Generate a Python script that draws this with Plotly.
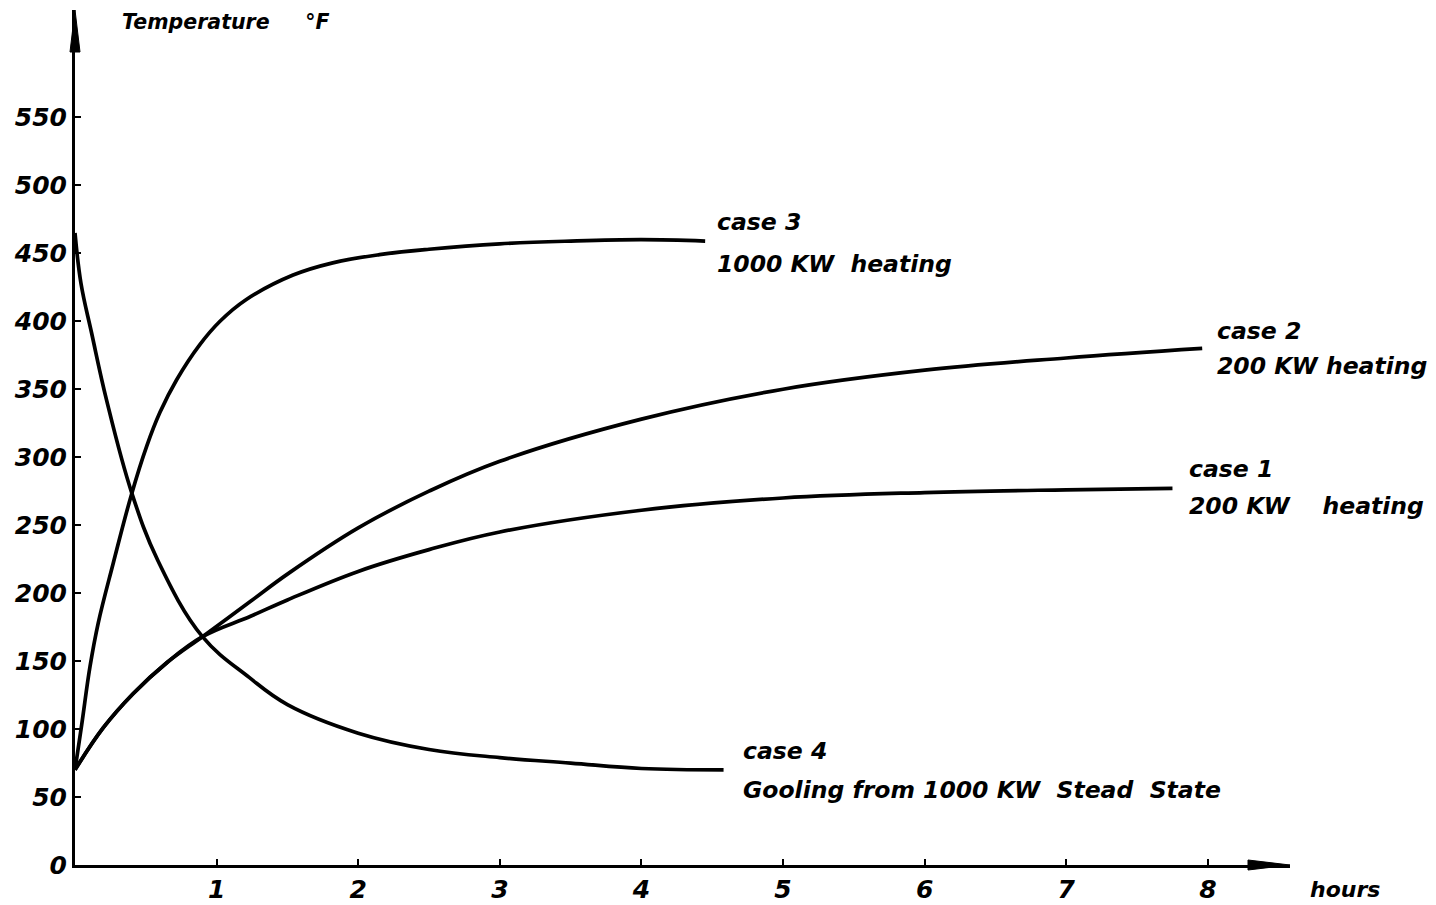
import plotly.graph_objects as go

# ---- data ----
case1_hours = [0, 0.2, 0.41, 0.65, 0.9, 1.24, 1.5, 2.0, 2.5, 3.0, 4.0, 5.0, 6.0, 7.0, 7.75]
case1_temp = [70, 101, 126, 149, 168, 183, 195, 216, 232, 245, 261, 270, 274, 276, 277]

case2_hours = [0, 0.2, 0.41, 0.65, 0.9, 1.24, 1.5, 2.0, 2.5, 3.0, 4.0, 5.0, 6.0, 7.0, 7.96]
case2_temp = [70, 101, 126, 149, 168, 194, 214, 248, 275, 297, 328, 350, 364, 373, 380]

case3_hours = [0, 0.047, 0.106, 0.164, 0.27, 0.40, 0.506, 0.60, 0.718, 0.883, 1.024, 1.21,
               1.54, 1.82, 2.15, 2.5, 3.0, 3.5, 4.0, 4.45]
case3_temp = [70, 103, 146, 178, 222, 273, 308, 333, 357, 383, 400, 416,
              434, 443, 449, 453, 457, 459, 460, 459]

case4_hours = [0, 0.042, 0.118, 0.223, 0.40, 0.585, 0.90, 1.23, 1.5, 2.0, 2.5, 3.0, 3.5, 4.0, 4.58]
case4_temp = [465, 428, 391, 342, 274, 224, 168, 138, 118, 97, 85, 79, 75, 71, 70]

y_ticks = [0, 50, 100, 150, 200, 250, 300, 350, 400, 450, 500, 550]
x_ticks = [1, 2, 3, 4, 5, 6, 7, 8]

FONT = "DejaVu Sans"
BLACK = "#000000"

fig = go.Figure()
for hx, ty in [(case1_hours, case1_temp), (case2_hours, case2_temp),
               (case3_hours, case3_temp), (case4_hours, case4_temp)]:
    fig.add_trace(go.Scatter(x=hx, y=ty, mode="lines",
                             line=dict(color=BLACK, width=3.7, shape="spline", smoothing=1.1),
                             showlegend=False, hoverinfo="skip", cliponaxis=False))

lab_font = dict(family=FONT, size=23.5, color=BLACK, style="italic", weight="bold")
NB = "\u00a0"
labels = [
    ("case" + NB + "3", 4.52, 473),
    ("1000" + NB + "KW" + NB * 2 + "heating", 4.52, 442),
    ("case" + NB + "2", 8.05, 393),
    ("200" + NB + "KW" + NB + "heating", 8.05, 367),
    ("case" + NB + "1", 7.85, 291),
    ("200" + NB + "KW" + NB * 4 + "heating", 7.85, 264),
    ("case" + NB + "4", 4.70, 84),
    ("Gooling" + NB + "from" + NB + "1000" + NB + "KW" + NB * 2 + "Stead" + NB * 2 + "State", 4.70, 55),
]
for txt, xx, yy in labels:
    fig.add_annotation(x=xx, y=yy, xref="x", yref="y", text=txt, showarrow=False,
                       xanchor="left", yanchor="middle", font=lab_font)

fig.add_annotation(x=0.315, y=620, xref="x", yref="y", text="Temperature" + NB * 5 + "°F",
                   showarrow=False, xanchor="left", yanchor="middle",
                   font=dict(family=FONT, size=20.5, color=BLACK, style="italic", weight="bold"))
fig.add_annotation(x=1.015, y=-0.029, xref="paper", yref="paper", text="hours", showarrow=False,
                   xanchor="left", yanchor="middle",
                   font=dict(family=FONT, size=22, color=BLACK, style="italic", weight="bold"))

# axis arrowheads
fig.add_shape(type="path", xref="paper", yref="paper", xsizemode="pixel", ysizemode="pixel",
              xanchor=0, yanchor=1, path="M -5 -42 L 0 0 L 5 -42 Z",
              fillcolor=BLACK, line=dict(color=BLACK, width=1))
fig.add_shape(type="path", xref="paper", yref="paper", xsizemode="pixel", ysizemode="pixel",
              xanchor=1, yanchor=0, path="M -42 -5 L 0 0 L -42 5 Z",
              fillcolor=BLACK, line=dict(color=BLACK, width=1))

tick_font = dict(family=FONT, size=25, color=BLACK, style="italic", weight="bold")
fig.update_layout(
    width=1428, height=897,
    margin=dict(l=67, r=146, t=2, b=40),
    paper_bgcolor="white", plot_bgcolor="white",
    xaxis=dict(range=[0, 8.58], tickvals=x_ticks, ticktext=[str(v) for v in x_ticks],
               showline=True, linecolor=BLACK, linewidth=3, showgrid=False, zeroline=False,
               ticks="inside", ticklen=6, tickwidth=2, tickcolor=BLACK, tickfont=tick_font),
    yaxis=dict(range=[0, 629], tickvals=y_ticks, ticktext=[str(v) for v in y_ticks],
               showline=True, linecolor=BLACK, linewidth=3, showgrid=False, zeroline=False,
               ticks="inside", ticklen=6, tickwidth=2, tickcolor=BLACK, tickfont=tick_font),
)

fig.write_html("out.html")
